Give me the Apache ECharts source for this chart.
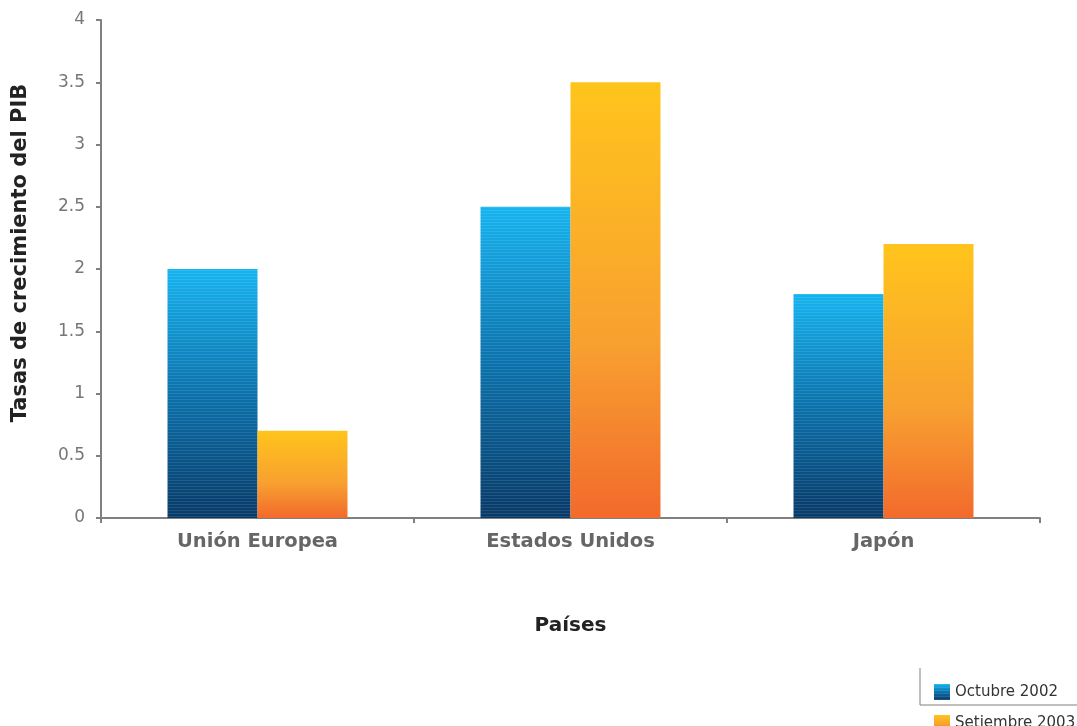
<!DOCTYPE html>
<html>
<head>
<meta charset="utf-8">
<script src="https://cdn.jsdelivr.net/npm/echarts@6/dist/echarts.min.js"></script>
<style>
  html, body { margin: 0; padding: 0; background: #ffffff; }
  #chart { width: 1077px; height: 726px; }
</style>
</head>
<body>
<div id="chart"></div>
<script>
// Tasas de crecimiento del PIB por país
const paises = ['Unión Europea', 'Estados Unidos', 'Japón'];
const octubre2002 = [2.0, 2.5, 1.8];
const setiembre2003 = [0.7, 3.5, 2.2];
const yTicks = [0, 0.5, 1, 1.5, 2, 2.5, 3, 3.5, 4];
const seriesNames = ['Octubre 2002', 'Setiembre 2003'];

const FONT = '"DejaVu Sans", Verdana, sans-serif';

const blueFill = new echarts.graphic.LinearGradient(0, 0, 0, 1, [
  { offset: 0, color: '#16b4f0' },
  { offset: 0.5, color: '#0b72ac' },
  { offset: 1, color: '#083a68' }
]);
const orangeFill = new echarts.graphic.LinearGradient(0, 0, 0, 1, [
  { offset: 0, color: '#ffc41c' },
  { offset: 0.6, color: '#f8a030' },
  { offset: 1, color: '#f26a2c' }
]);

// one legend block per series so the two entries stack in the corner
const legendBlock = (name, top) => ({
  orient: 'vertical',
  left: 929,
  top: top,
  itemWidth: 16,
  itemHeight: 16,
  icon: 'rect',
  textStyle: { fontFamily: FONT, fontSize: 15, color: '#333333' },
  data: [name]
});

const chart = echarts.init(document.getElementById('chart'), null, { renderer: 'canvas' });

chart.setOption({
  animation: false,
  backgroundColor: '#ffffff',
  grid: { left: 101, top: 20, right: 37, bottom: 208 },
  legend: [legendBlock(seriesNames[0], 679), legendBlock(seriesNames[1], 710)],
  xAxis: {
    type: 'category',
    data: paises,
    name: 'Países',
    nameLocation: 'middle',
    nameGap: 98,
    nameTextStyle: { fontFamily: FONT, fontSize: 20, fontWeight: 'bold', color: '#222222' },
    axisLine: { lineStyle: { color: '#808080', width: 2 } },
    axisTick: { show: true, length: 5, lineStyle: { color: '#808080', width: 2 } },
    axisLabel: { fontFamily: FONT, fontSize: 19.5, fontWeight: 'bold', color: '#666666', margin: 14 }
  },
  yAxis: {
    type: 'value',
    min: 0,
    max: 4,
    interval: 0.5,
    axisLine: { show: true, lineStyle: { color: '#808080', width: 2 } },
    axisTick: { show: true, length: 5, lineStyle: { color: '#808080', width: 2 } },
    splitLine: { show: false },
    axisLabel: {
      fontFamily: FONT, fontSize: 17, color: '#777777', margin: 16,
      formatter: v => (yTicks.includes(v) ? String(v) : '')
    }
  },
  graphic: [
    {
      type: 'text',
      x: 21,
      y: 253,
      rotation: Math.PI / 2,
      style: {
        text: 'Tasas de crecimiento del PIB',
        fontFamily: FONT,
        fontSize: 21,
        fontWeight: 'bold',
        fill: '#222222',
        align: 'center',
        verticalAlign: 'middle'
      }
    },
    {
      type: 'polyline',
      shape: { points: [[920, 668], [920, 705], [1077, 705]] },
      style: { stroke: '#808080', lineWidth: 1, fill: null }
    }
  ],
  series: [
    {
      name: seriesNames[0],
      type: 'bar',
      data: octubre2002,
      barGap: '0%',
      barCategoryGap: '42.5%',
      itemStyle: {
        color: blueFill,
        decal: {
          symbol: 'rect',
          symbolSize: 1,
          dashArrayX: [1, 0],
          dashArrayY: [1, 2],
          color: 'rgba(255,255,255,0.10)'
        }
      }
    },
    {
      name: seriesNames[1],
      type: 'bar',
      data: setiembre2003,
      itemStyle: { color: orangeFill }
    }
  ]
});
</script>
</body>
</html>
